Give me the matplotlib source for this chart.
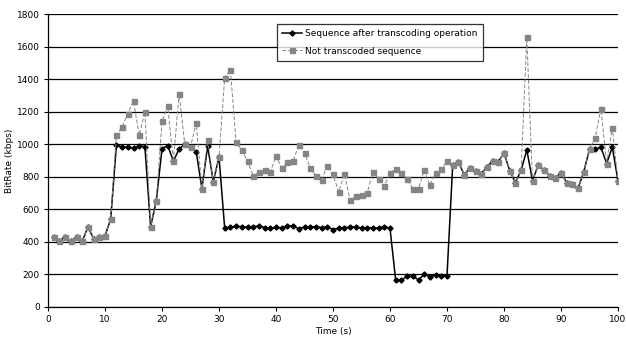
import numpy as np
import matplotlib
matplotlib.use('Agg')
import matplotlib.pyplot as plt


time_s = np.arange(1, 101)

not_transcoded = [428, 408, 428, 404, 432, 404, 491, 420, 432, 438,
                  540, 1055, 1106, 1188, 1265, 1055, 1198, 493, 652, 1140,
                  1233, 896, 1310, 1000, 984, 1129, 727, 1024, 770, 922,
                  1408, 1459, 1012, 963, 895, 806, 828, 840, 828, 930,
                  854, 889, 897, 994, 946, 855, 804, 781, 869, 814,
                  707, 816, 659, 682, 688, 700, 830, 785, 741, 825,
                  850, 824, 785, 727, 727, 842, 748, 825, 846, 895,
                  871, 893, 812, 853, 833, 820, 861, 898, 893, 945,
                  838, 764, 840, 1656, 775, 873, 842, 807, 795, 824,
                  764, 754, 730, 832, 969, 1041, 1219, 881, 1098, 775]

transcoded = [428, 408, 428, 404, 432, 404, 491, 420, 432, 438,
              540, 995, 982, 982, 976, 990, 986, 493, 652, 973,
              992, 896, 971, 1000, 984, 955, 727, 988, 770, 922,
              483, 490, 497, 493, 490, 494, 497, 488, 483, 489,
              486, 497, 500, 480, 492, 493, 493, 488, 494, 476,
              484, 486, 493, 490, 485, 487, 485, 487, 493, 485,
              163, 163, 190, 188, 167, 200, 186, 196, 192, 192,
              871, 893, 812, 853, 833, 820, 861, 898, 893, 945,
              838, 764, 840, 965, 775, 873, 842, 807, 795, 824,
              764, 754, 730, 832, 969, 969, 982, 881, 982, 775]

plt.rcParams['font.family'] = ['DejaVu Sans']
plt.rcParams['font.size'] = 6.5

fig = plt.figure(figsize=(6.26, 3.38), dpi=100)
ax = fig.add_axes([48 / 626, 1 - 307 / 338, 570 / 626, 293 / 338])

ax.plot(time_s, transcoded, color='black', linewidth=1.1, marker='D',
        markersize=2.6, label='Sequence after transcoding operation',
        zorder=3)
ax.plot(time_s, not_transcoded, color='#858585', linewidth=0.7,
        linestyle=(0, (4, 2)), marker='s', markersize=3.6,
        markeredgecolor='#858585', label='Not transcoded sequence',
        zorder=4)

ax.set_xlim(0, 100)
ax.set_ylim(0, 1800)
ax.set_xticks(np.arange(0, 101, 10))
ax.set_yticks(np.arange(0, 1801, 200))
ax.yaxis.grid(True, color='black', linewidth=0.9)
ax.set_axisbelow(True)
for side in ('top', 'right'):
    ax.spines[side].set_visible(False)
ax.spines['left'].set_linewidth(0.9)
ax.spines['bottom'].set_linewidth(0.9)
ax.tick_params(direction='out', length=3, width=0.8, pad=3, labelsize=6.5)

ax.set_xlabel('Time (s)', fontsize=6.5, labelpad=2)
ax.set_ylabel('BitRate (kbps)', fontsize=6.5, labelpad=2)

leg = ax.legend(loc='upper left', bbox_to_anchor=(229 / 570, 1 - 10 / 293),
                borderaxespad=0, fancybox=False, frameon=True,
                edgecolor='black', fontsize=6.5, handlelength=2.2,
                borderpad=0.6, labelspacing=0.9, handletextpad=0.3)
leg.get_frame().set_linewidth(0.9)

fig.savefig('out.png', dpi=100)
